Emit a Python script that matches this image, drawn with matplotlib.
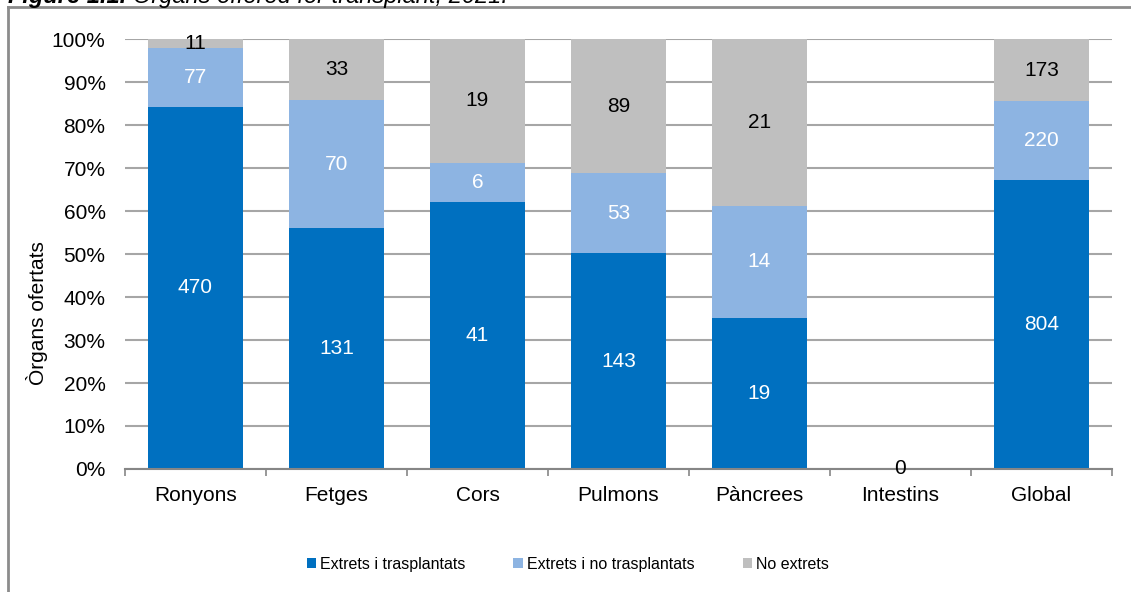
import matplotlib.pyplot as plt
import numpy as np
from matplotlib.lines import Line2D

plt.rcParams["font.family"] = ["Liberation Sans", "DejaVu Sans"]

categories = ["Ronyons", "Fetges", "Cors", "Pulmons", "Pàncrees", "Intestins", "Global"]
extrets_trasplantats = [470, 131, 41, 143, 19, 0, 804]
extrets_no_trasplantats = [77, 70, 6, 53, 14, 0, 220]
no_extrets = [11, 33, 19, 89, 21, 0, 173]
series_names = ["Extrets i trasplantats", "Extrets i no trasplantats", "No extrets"]
colors = ["#0070C0", "#8DB4E2", "#BFBFBF"]
label_colors = ["white", "white", "black"]

counts = np.array([extrets_trasplantats, extrets_no_trasplantats, no_extrets], dtype=float)
totals = counts.sum(axis=0)
shares = np.divide(counts, totals, out=np.zeros_like(counts), where=totals > 0) * 100

fig = plt.figure(figsize=(11.31, 5.92), dpi=100)
ax = fig.add_axes([0.1105, 0.2078, 0.8727, 0.7262])

x = np.arange(len(categories))
bottom = np.zeros(len(categories))
for i in range(3):
    ax.bar(x, shares[i], bottom=bottom, width=0.667, color=colors[i],
           label=series_names[i], zorder=2)
    for j in range(len(categories)):
        if totals[j] > 0:
            ax.text(x[j], bottom[j] + shares[i][j] / 2, f"{int(counts[i][j])}",
                    ha="center", va="center", fontsize=15, color=label_colors[i], zorder=3)
    bottom += shares[i]

# zero label for empty category
for j in range(len(categories)):
    if totals[j] == 0:
        ax.text(x[j], 0, "0", ha="center", va="center", fontsize=15, color="black", zorder=3)

ax.set_xlim(-0.5, len(categories) - 0.5)
ax.set_ylim(0, 100)
ax.set_yticks(np.arange(0, 101, 10))
ax.set_yticklabels([f"{v}%" for v in range(0, 101, 10)], fontsize=15)
ax.set_xticks(x)
ax.set_xticklabels(categories, fontsize=15)
ax.set_xticks(np.arange(-0.5, len(categories), 1), minor=True)
ax.tick_params(axis="x", which="major", length=0, pad=12)
ax.tick_params(axis="x", which="minor", length=5, color="#868686", width=1.2)
ax.tick_params(axis="y", length=0, pad=14)
ax.yaxis.grid(True, color="#A6A6A6", linewidth=1.5, zorder=0)
ax.set_axisbelow(True)
for side in ["top", "right", "left"]:
    ax.spines[side].set_visible(False)
ax.spines["bottom"].set_color("#868686")
ax.spines["bottom"].set_linewidth(1.5)
ax.set_ylabel("Òrgans ofertats", fontsize=15)
ax.yaxis.set_label_coords(-0.078, 0.363)

fig.legend(loc="center", bbox_to_anchor=(0.502, 0.047), ncol=3, frameon=False,
           fontsize=11.5, handlelength=0.6, handleheight=0.6, handletextpad=0.25,
           columnspacing=3.0)

# outer frame (top and left edges visible)
fig.add_artist(Line2D([8 / 1131, 1.0], [1 - 7 / 592] * 2, color="#8C8C8C", linewidth=2))
fig.add_artist(Line2D([8 / 1131] * 2, [0.0, 1 - 7 / 592], color="#8C8C8C", linewidth=2))

# title, cut off at top edge
t1 = fig.text(8 / 1131, 1 - 2.5 / 592, "Figure 1.1. ", fontsize=17, fontweight="bold",
              fontstyle="italic", va="baseline")
fig.canvas.draw()
x_end = t1.get_window_extent().x1 / fig.bbox.width
fig.text(x_end, 1 - 2.5 / 592, "Organs offered for transplant, 2021.", fontsize=17,
         fontstyle="italic", va="baseline")

fig.savefig("out.png", dpi=100)
